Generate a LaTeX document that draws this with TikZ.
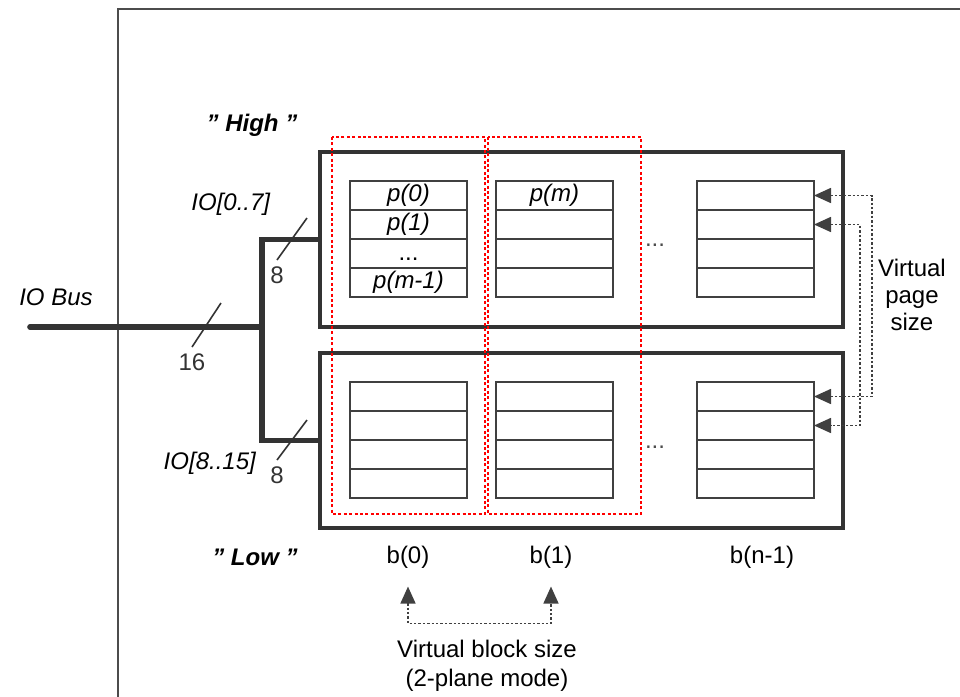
\documentclass[tikz,border=0pt]{standalone}
\usepackage{fontspec}
\setmainfont{Liberation Sans}
\usetikzlibrary{arrows.meta}
\tikzset{
  row/.style={draw=black!75,line width=0.8pt,minimum width=58.5pt,
    minimum height=14.5pt,inner sep=0pt,outer sep=0pt,anchor=north west},
  plane/.style={draw=black!80,line width=1.6pt,minimum width=261.5pt,
    minimum height=87.5pt,inner sep=0pt,outer sep=0pt},
  bus/.style={black!80,line width=2.8pt},
  tick/.style={black!80,line width=0.8pt},
  vblock/.style={red,line width=0.8pt,dash pattern=on 1.5pt off 1.2pt},
  vsize/.style={black!75,line width=0.8pt,dash pattern=on 1.2pt off 1pt,
    {Triangle[length=8.5pt,width=7.5pt]}-{Triangle[length=8.5pt,width=7.5pt]}},
  lbl/.style={font=\fontsize{12}{14.5}\selectfont,inner sep=0pt},
  hilo/.style={lbl,font=\fontsize{12}{14.5}\selectfont\bfseries\itshape},
}
\begin{document}
\begin{tikzpicture}[x=0.5pt,y=-0.5pt]
            \useasboundingbox (0,0) rectangle (960,697);
            \def\rh{29}
            \draw[black!70,line width=1pt] (118,697) |- (960,9);
            \node[plane] (hiplane) at (581.5,239.5) {};
            \node[plane] (loplane) at (581.5,440.5) {};
            \foreach \bx/\bn in {350/0,496/1,697/2}
            {\foreach \py/\pl in {181/u,382/l}
                {\foreach \r in {0,...,3}
                    {\node[row] (\pl\bn r\r) at (\bx,{\py+\r*\rh}) {};}}}
            \foreach \vx in {332,488}
                {\draw[vblock] (\vx,137) rectangle ++(153,377);}
            \node[lbl] (p0) at (u0r0) {\textit{p(0)}};
            \node[lbl] (p1) at (u0r1) {\textit{p(1)}};
            \node[lbl] (pdots) at ([yshift=-3pt]u0r2) {...};
            \node[lbl] (pm1) at (u0r3) {\textit{p(m-1)}};
            \node[lbl] (pm) at (u1r0) {\textit{p(m)}};
            \node[lbl,text=black!70] (hidots) at (655,245) {...};
            \node[lbl,text=black!70] (lodots) at (655,447) {...};
            \coordinate (busin) at (30,327);
            \coordinate (split) at (262,327);
            \draw[bus,line cap=round] (busin) -- (split);
            \draw[bus] (hiplane.west) -| (split) |- (loplane.west);
            \coordinate (t16) at (206,325);
            \coordinate (t8a) at (292,239);
            \coordinate (t8b) at (292,440);
            \draw[tick] ([shift={(15,-22)}]t16) -- ([shift={(-14,22)}]t16)
                node[lbl,below=3pt] (n16) {16};
            \draw[tick] ([shift={(15,-21)}]t8a) -- ([shift={(-15,21)}]t8a)
                node[lbl,below=3pt] (n8a) {8};
            \draw[tick] ([shift={(15,-20)}]t8b) -- ([shift={(-15,20)}]t8b)
                node[lbl,below=3pt] (n8b) {8};
            \node[lbl] (iobus) at (56,297) {\textit{IO Bus}};
            \node[lbl] (io07) at (231,204) {\textit{IO[0..7]}};
            \node[lbl] (io815) at (210,463) {\textit{IO[8..15]}};
            \node[hilo] (hilbl) at (252,125) {"\ High\ "};
            \node[hilo] (lolbl) at (255,557) {"\ Low\ "};
            \node[lbl] (b0) at (408,557) {b(0)};
            \node[lbl] (b1) at (551,557) {b(1)};
            \node[lbl] (bn) at (762,557) {b(n-1)};
            \draw[vsize] ([yshift=-9pt]b0.south) -- ++(0,37)
                -| ([yshift=-9pt]b1.south);
            \node[lbl,align=center] (vblk) at (487,666)
                {Virtual block size\\(2-plane mode)};
            \draw[vsize] (u2r0.east) -- ++(58,0) |- (l2r0.east);
            \draw[vsize] (u2r1.east) -- ++(46,0) |- (l2r1.east);
            \node[lbl,align=center,font=\fontsize{12}{13.5}\selectfont] (vpage)
                at (912,295) {Virtual\\page\\size};
\end{tikzpicture}
\end{document}
